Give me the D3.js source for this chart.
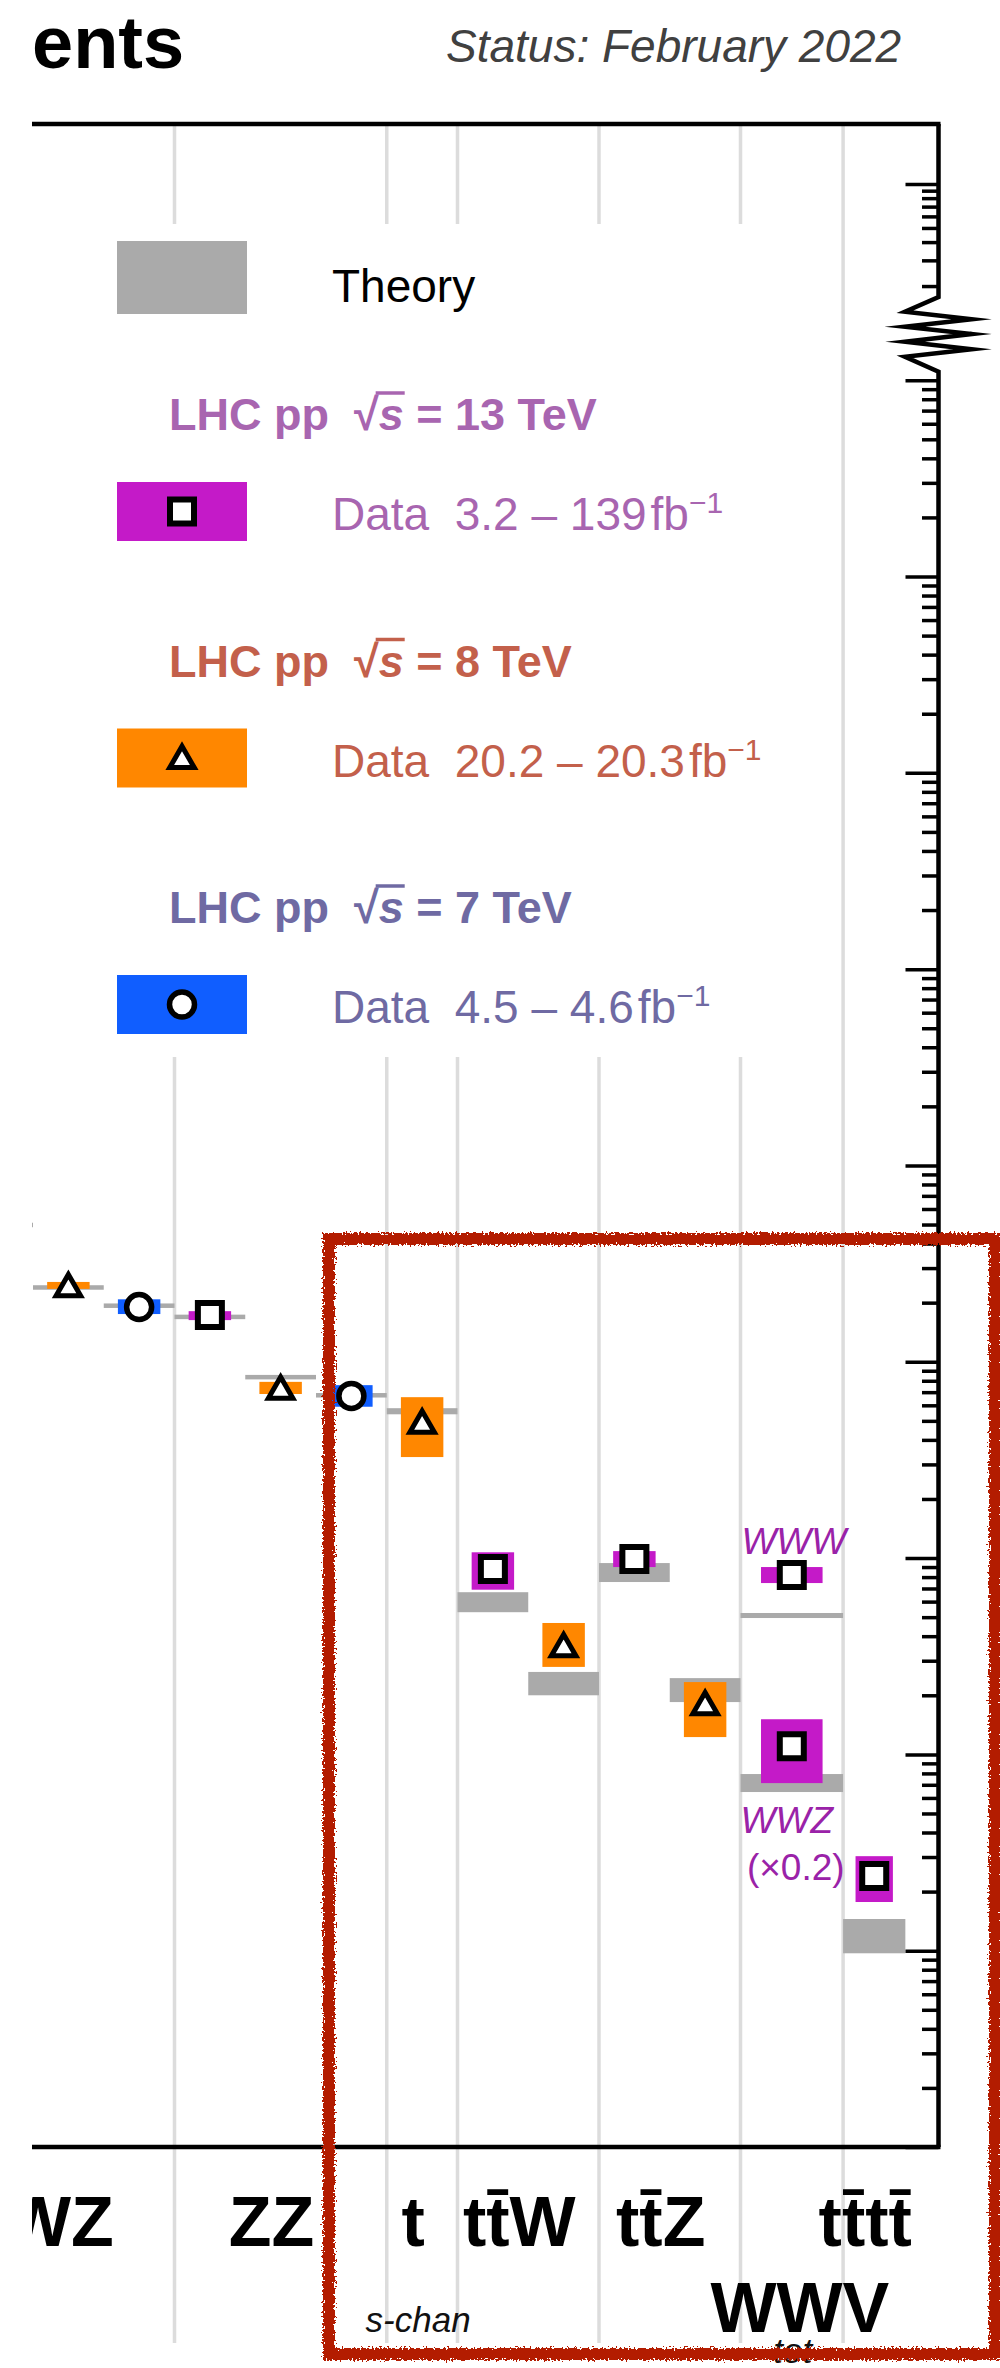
<!DOCTYPE html>
<html>
<head>
  <title>SM cross sections - detail</title>
  <meta charset="utf-8">
  <script src="https://d3js.org/d3.v7.min.js"></script>
  <style>
    body { margin: 0; background: #FFFFFF; }
    text { font-family: "Liberation Sans", Arial, Helvetica, sans-serif; }
  </style>
</head>
<body>
  <svg id="chart" width="1000" height="2368" style="background: #FFFFFF;"></svg>

  <script>
    // ---- data (cross sections in pb), one entry per slot along the x axis ----
    const names      = ["WZ", "WZ", "WZ", "ZZ", "ZZ", "ZZ", "t s-chan", "ttW", "ttW", "ttZ", "ttZ", "WWW", "WWZ", "tttt"];
    const energies   = [13, 8, 7, 13, 8, 7, 8, 13, 8, 13, 8, 13, 13, 13];
    const slotStart  = [-1, 0, 1, 2, 3, 4, 5, 6, 7, 8, 9, 10, 10, 11.45];
    const slotEnd    = [0, 1, 2, 3, 4, 5, 6, 7, 8, 9, 10, 11.45, 11.45, 12.33];
    const dataValue  = [51.0, 24.3, 19.0, 17.3, 7.3, 6.7, 4.9, 0.88, 0.356, 0.99, 0.180, 0.82, 0.110, 0.024];
    const dataLow    = [48.6, 23.5, 17.5, 16.3, 6.85, 5.9, 3.27, 0.69, 0.279, 0.90, 0.1225, 0.746, 0.0714, 0.0177];
    const dataHigh   = [53.4, 25.5, 20.8, 18.1, 7.9, 7.6, 6.6, 1.07, 0.467, 1.085, 0.2335, 0.90, 0.151, 0.0303];
    const theoryLow  = [49.0, 23.6, 19.05, 16.7, 8.15, 6.6, 5.4, 0.53, 0.200, 0.755, 0.1847, 0.495, 0.0643, 0.0097];
    const theoryHigh = [50.5, 24.2, 19.55, 17.15, 8.55, 6.9, 5.8, 0.67, 0.263, 0.943, 0.2446, 0.525, 0.0794, 0.0145];

    // process groups and their axis labels
    const groupLabels = ["WZ", "ZZ", "t", "tt\u0304W", "tt\u0304Z", "WWV", "tt\u0304tt\u0304"];
    const groupSubs   = ["", "", "s-chan", "", "", "tot", ""];
    const groupRow    = [0, 0, 0, 0, 0, 1, 0];
    const groupStart  = [-1, 2, 5, 6, 8, 10, 11.45];
    const groupEnd    = [2, 5, 6, 8, 10, 11.45, 12.33];

    // legend
    const legendEnergies = [13, 8, 7];
    const legendTitles   = ["13", "8", "7"];
    const legendLumi     = ["3.2 \u2013 139", "20.2 \u2013 20.3", "4.5 \u2013 4.6"];

    // log axis tick values
    const lowDecades  = d3.range(-3, 7);     // 10^-3 ... 10^6
    const highDecades = [10, 11];            // upper part above the break

    // ---- styles ----
    const boxColor  = {13: "#c41ac8", 8: "#ff8700", 7: "#105eff"};
    const textColor = {13: "#a865b0", 8: "#c3604b", 7: "#6f6aa3"};
    const theoryColor = "#aaaaaa";
    const gridColor = "#dcdcdc";
    const procColor = "#9a22a8";

    const svg = d3.select("svg#chart");

    const plotLeft = 32, plotRight = 938.5, plotTop = 124, plotBottom = 2147;

    const x = d3.scaleLinear().domain([0, 1]).range([33, 103.75]);
    const y = d3.scaleLog().domain([1e-3, 1e6]).range([plotBottom, 380.2]);
    const yHigh = d3.scaleLog().domain([1e10, 1e11]).range([330, 184]);

    svg.append("defs").append("clipPath").attr("id", "plotclip")
      .append("rect").attr("x", plotLeft).attr("y", 0).attr("width", 1000 - plotLeft).attr("height", 2368);

    const rough = svg.select("defs").append("filter").attr("id", "rough")
      .attr("filterUnits", "userSpaceOnUse")
      .attr("x", 280).attr("y", 1190).attr("width", 720).attr("height", 1178);
    rough.append("feTurbulence").attr("type", "fractalNoise").attr("baseFrequency", 0.5)
      .attr("numOctaves", 2).attr("seed", 3).attr("result", "noise");
    rough.append("feDisplacementMap").attr("in", "SourceGraphic").attr("in2", "noise")
      .attr("scale", 9).attr("xChannelSelector", "R").attr("yChannelSelector", "G");

    const plot = svg.append("g").attr("clip-path", "url(#plotclip)");

    // vertical separators between processes
    plot.selectAll("line.sep").data(groupStart)
      .join("line")
      .attr("class", "sep")
      .attr("x1", d => x(d)).attr("x2", d => x(d))
      .attr("y1", plotTop).attr("y2", 2343)
      .attr("stroke", gridColor).attr("stroke-width", 3.5);

    // legend
    const legend = svg.append("g").attr("id", "legend");
    legend.append("rect").attr("x", plotLeft).attr("y", 224).attr("width", 768).attr("height", 833)
      .attr("fill", "#FFFFFF");

    legend.append("rect").attr("x", 117).attr("y", 241).attr("width", 130).attr("height", 73)
      .attr("fill", theoryColor);
    legend.append("text").attr("x", 332).attr("y", 302).style("font-size", "46px").text("Theory");

    function marker(g, energy, cx, cy) {
      if (energy === 13) {
        g.append("path").attr("d", d3.symbol(d3.symbolSquare, 24 * 24)())
          .attr("transform", `translate(${cx},${cy})`)
          .attr("fill", "#FFFFFF").attr("stroke", "#000").attr("stroke-width", 6);
      } else if (energy === 8) {
        g.append("path").attr("d", d3.symbol(d3.symbolTriangle, 260)())
          .attr("transform", `translate(${cx},${cy + 2.5})`)
          .attr("fill", "#FFFFFF").attr("stroke", "#000").attr("stroke-width", 5)
          .attr("stroke-linejoin", "miter");
      } else {
        g.append("path").attr("d", d3.symbol(d3.symbolCircle, Math.PI * 12.5 * 12.5)())
          .attr("transform", `translate(${cx},${cy})`)
          .attr("fill", "#FFFFFF").attr("stroke", "#000").attr("stroke-width", 5.5);
      }
    }

    legendEnergies.forEach((e, i) => {
      const top = 382 + i * 246.5;
      const tail = " = " + legendTitles[i] + " TeV";
      const t = legend.append("text").attr("x", 169).attr("y", top + 48)
        .attr("fill", textColor[e]).style("font-size", "45px").style("font-weight", "bold")
        .attr("xml:space", "preserve");
      t.append("tspan").text("LHC pp  \u221A");
      t.append("tspan").style("font-style", "italic").text("s");
      t.append("tspan").text(tail);
      // bar over the s of the square root
      const node = t.node();
      const n = node.getNumberOfChars();
      const rootBox = node.getExtentOfChar(n - tail.length - 2);
      const sBox = node.getExtentOfChar(n - tail.length - 1);
      legend.append("line")
        .attr("x1", rootBox.x + rootBox.width - 3).attr("x2", sBox.x + sBox.width + 1)
        .attr("y1", top + 11).attr("y2", top + 11)
        .attr("stroke", textColor[e]).attr("stroke-width", 3.5);

      const boxTop = top + 100;
      legend.append("rect").attr("x", 117).attr("y", boxTop).attr("width", 130).attr("height", 59)
        .attr("fill", boxColor[e]);
      marker(legend, e, 182, boxTop + 29.5);

      const dt = legend.append("text").attr("x", 332).attr("y", boxTop + 48)
        .attr("fill", textColor[e]).style("font-size", "46px").attr("xml:space", "preserve");
      dt.append("tspan").text("Data  " + legendLumi[i]);
      dt.append("tspan").attr("dx", 4).text("fb");
      dt.append("tspan").attr("dy", -17).style("font-size", "30px").text("\u22121");
    });

    // theory boxes
    const idx = d3.range(names.length);
    plot.selectAll("rect.theory").data(idx)
      .join("rect")
      .attr("class", "theory")
      .attr("x", i => x(slotStart[i]))
      .attr("width", i => x(slotEnd[i]) - x(slotStart[i]))
      .attr("y", i => Math.min(y(theoryHigh[i]), (y(theoryHigh[i]) + y(theoryLow[i])) / 2 - 2.25))
      .attr("height", i => Math.max(y(theoryLow[i]) - y(theoryHigh[i]), 4.5))
      .attr("fill", theoryColor);

    // measurement uncertainty boxes
    plot.selectAll("rect.data").data(idx)
      .join("rect")
      .attr("class", "data")
      .attr("x", i => x(slotStart[i]) + 0.2 * (x(slotEnd[i]) - x(slotStart[i])))
      .attr("width", i => 0.6 * (x(slotEnd[i]) - x(slotStart[i])))
      .attr("y", i => y(dataHigh[i]))
      .attr("height", i => y(dataLow[i]) - y(dataHigh[i]))
      .attr("fill", i => boxColor[energies[i]]);

    idx.forEach(i => {
      marker(plot, energies[i], (x(slotStart[i]) + x(slotEnd[i])) / 2, y(dataValue[i]));
    });

    // WWW / WWZ annotations
    const wwCenter = (x(slotStart[11]) + x(slotEnd[11])) / 2;
    plot.append("text").attr("x", wwCenter + 2).attr("y", y(dataHigh[11]) - 13)
      .attr("text-anchor", "middle").attr("fill", procColor)
      .style("font-size", "37px").style("font-style", "italic").text("WWW");
    plot.append("text").attr("x", wwCenter - 5).attr("y", y(theoryLow[12]) + 41)
      .attr("text-anchor", "middle").attr("fill", procColor)
      .style("font-size", "37px").style("font-style", "italic").text("WWZ");
    plot.append("text").attr("x", wwCenter + 4).attr("y", y(theoryLow[12]) + 88)
      .attr("text-anchor", "middle").attr("fill", procColor)
      .style("font-size", "37px").text("(\u00D70.2)");

    // frame
    const frame = svg.append("g").attr("id", "frame");
    frame.append("line").attr("x1", plotLeft).attr("x2", plotRight + 2)
      .attr("y1", plotTop).attr("y2", plotTop).attr("stroke", "#000").attr("stroke-width", 4.5);
    frame.append("line").attr("x1", plotLeft).attr("x2", plotRight + 2)
      .attr("y1", plotBottom).attr("y2", plotBottom).attr("stroke", "#000").attr("stroke-width", 4.5);
    const brk = [[plotRight, plotTop], [plotRight, 297], [905, 311.7], [971.7, 319.3], [905, 326.7],
                 [971.7, 334], [905, 341.7], [971.7, 349.3], [905, 356.7], [plotRight, 371.7], [plotRight, plotBottom]];
    frame.append("path").attr("d", d3.line()(brk))
      .attr("fill", "none").attr("stroke", "#000").attr("stroke-width", 4.5)
      .attr("stroke-linejoin", "miter").attr("stroke-miterlimit", 10);

    // right log axis ticks (drawn inward)
    const lowMajor = lowDecades.map(k => Math.pow(10, k));
    const lowMinor = [];
    lowDecades.slice(0, -1).forEach(k => d3.range(2, 10).forEach(m => lowMinor.push(m * Math.pow(10, k))));
    const highMinor = d3.range(2, 10).map(m => m * Math.pow(10, highDecades[0]));

    function ticks(scale, values, size) {
      const g = frame.append("g").attr("transform", `translate(${plotRight},0)`)
        .call(d3.axisLeft(scale).tickValues(values).tickSize(size).tickSizeOuter(0).tickFormat(""));
      g.select(".domain").remove();
      g.selectAll(".tick line").attr("stroke", "#000").attr("stroke-width", 3.5);
    }
    ticks(y, lowMajor, 33);
    ticks(y, lowMinor, 16.5);
    ticks(yHigh, [Math.pow(10, highDecades[1])], 33);
    ticks(yHigh, highMinor.filter(v => yHigh(v) < 297), 16.5);

    // process labels under the axis
    const labels = svg.append("g").attr("id", "labels").attr("clip-path", "url(#plotclip)");
    groupLabels.forEach((lab, i) => {
      const cx = (x(groupStart[i]) + x(groupEnd[i])) / 2;
      const row = groupRow[i];
      const base = row === 0 ? 2246 : 2332;
      const lx = cx + (row === 0 ? -9 : 8);
      labels.append("text").attr("x", lx).attr("y", base)
        .attr("text-anchor", "middle").style("font-size", "70px").style("font-weight", "bold")
        .text(lab);
      if (groupSubs[i]) {
        labels.append("text").attr("x", row === 0 ? cx - 4 : cx + 1).attr("y", row === 0 ? 2332 : 2363)
          .attr("text-anchor", "middle").style("font-size", "35px").style("font-style", "italic")
          .attr("fill", "#111").text(groupSubs[i]);
      }
    });

    // titles
    svg.append("text").attr("x", 32).attr("y", 68)
      .style("font-size", "74px").style("font-weight", "bold").text("ents");
    svg.append("text").attr("x", 446).attr("y", 62).attr("fill", "#404040")
      .style("font-size", "46px").style("font-style", "italic").text("Status: February 2022");

    // hand drawn highlight
    svg.append("rect").attr("x", 329).attr("y", 1239).attr("width", 666).attr("height", 1115)
      .attr("fill", "none").attr("stroke", "#b31a05").attr("stroke-width", 12)
      .attr("filter", "url(#rough)");
  </script>
</body>
</html>
